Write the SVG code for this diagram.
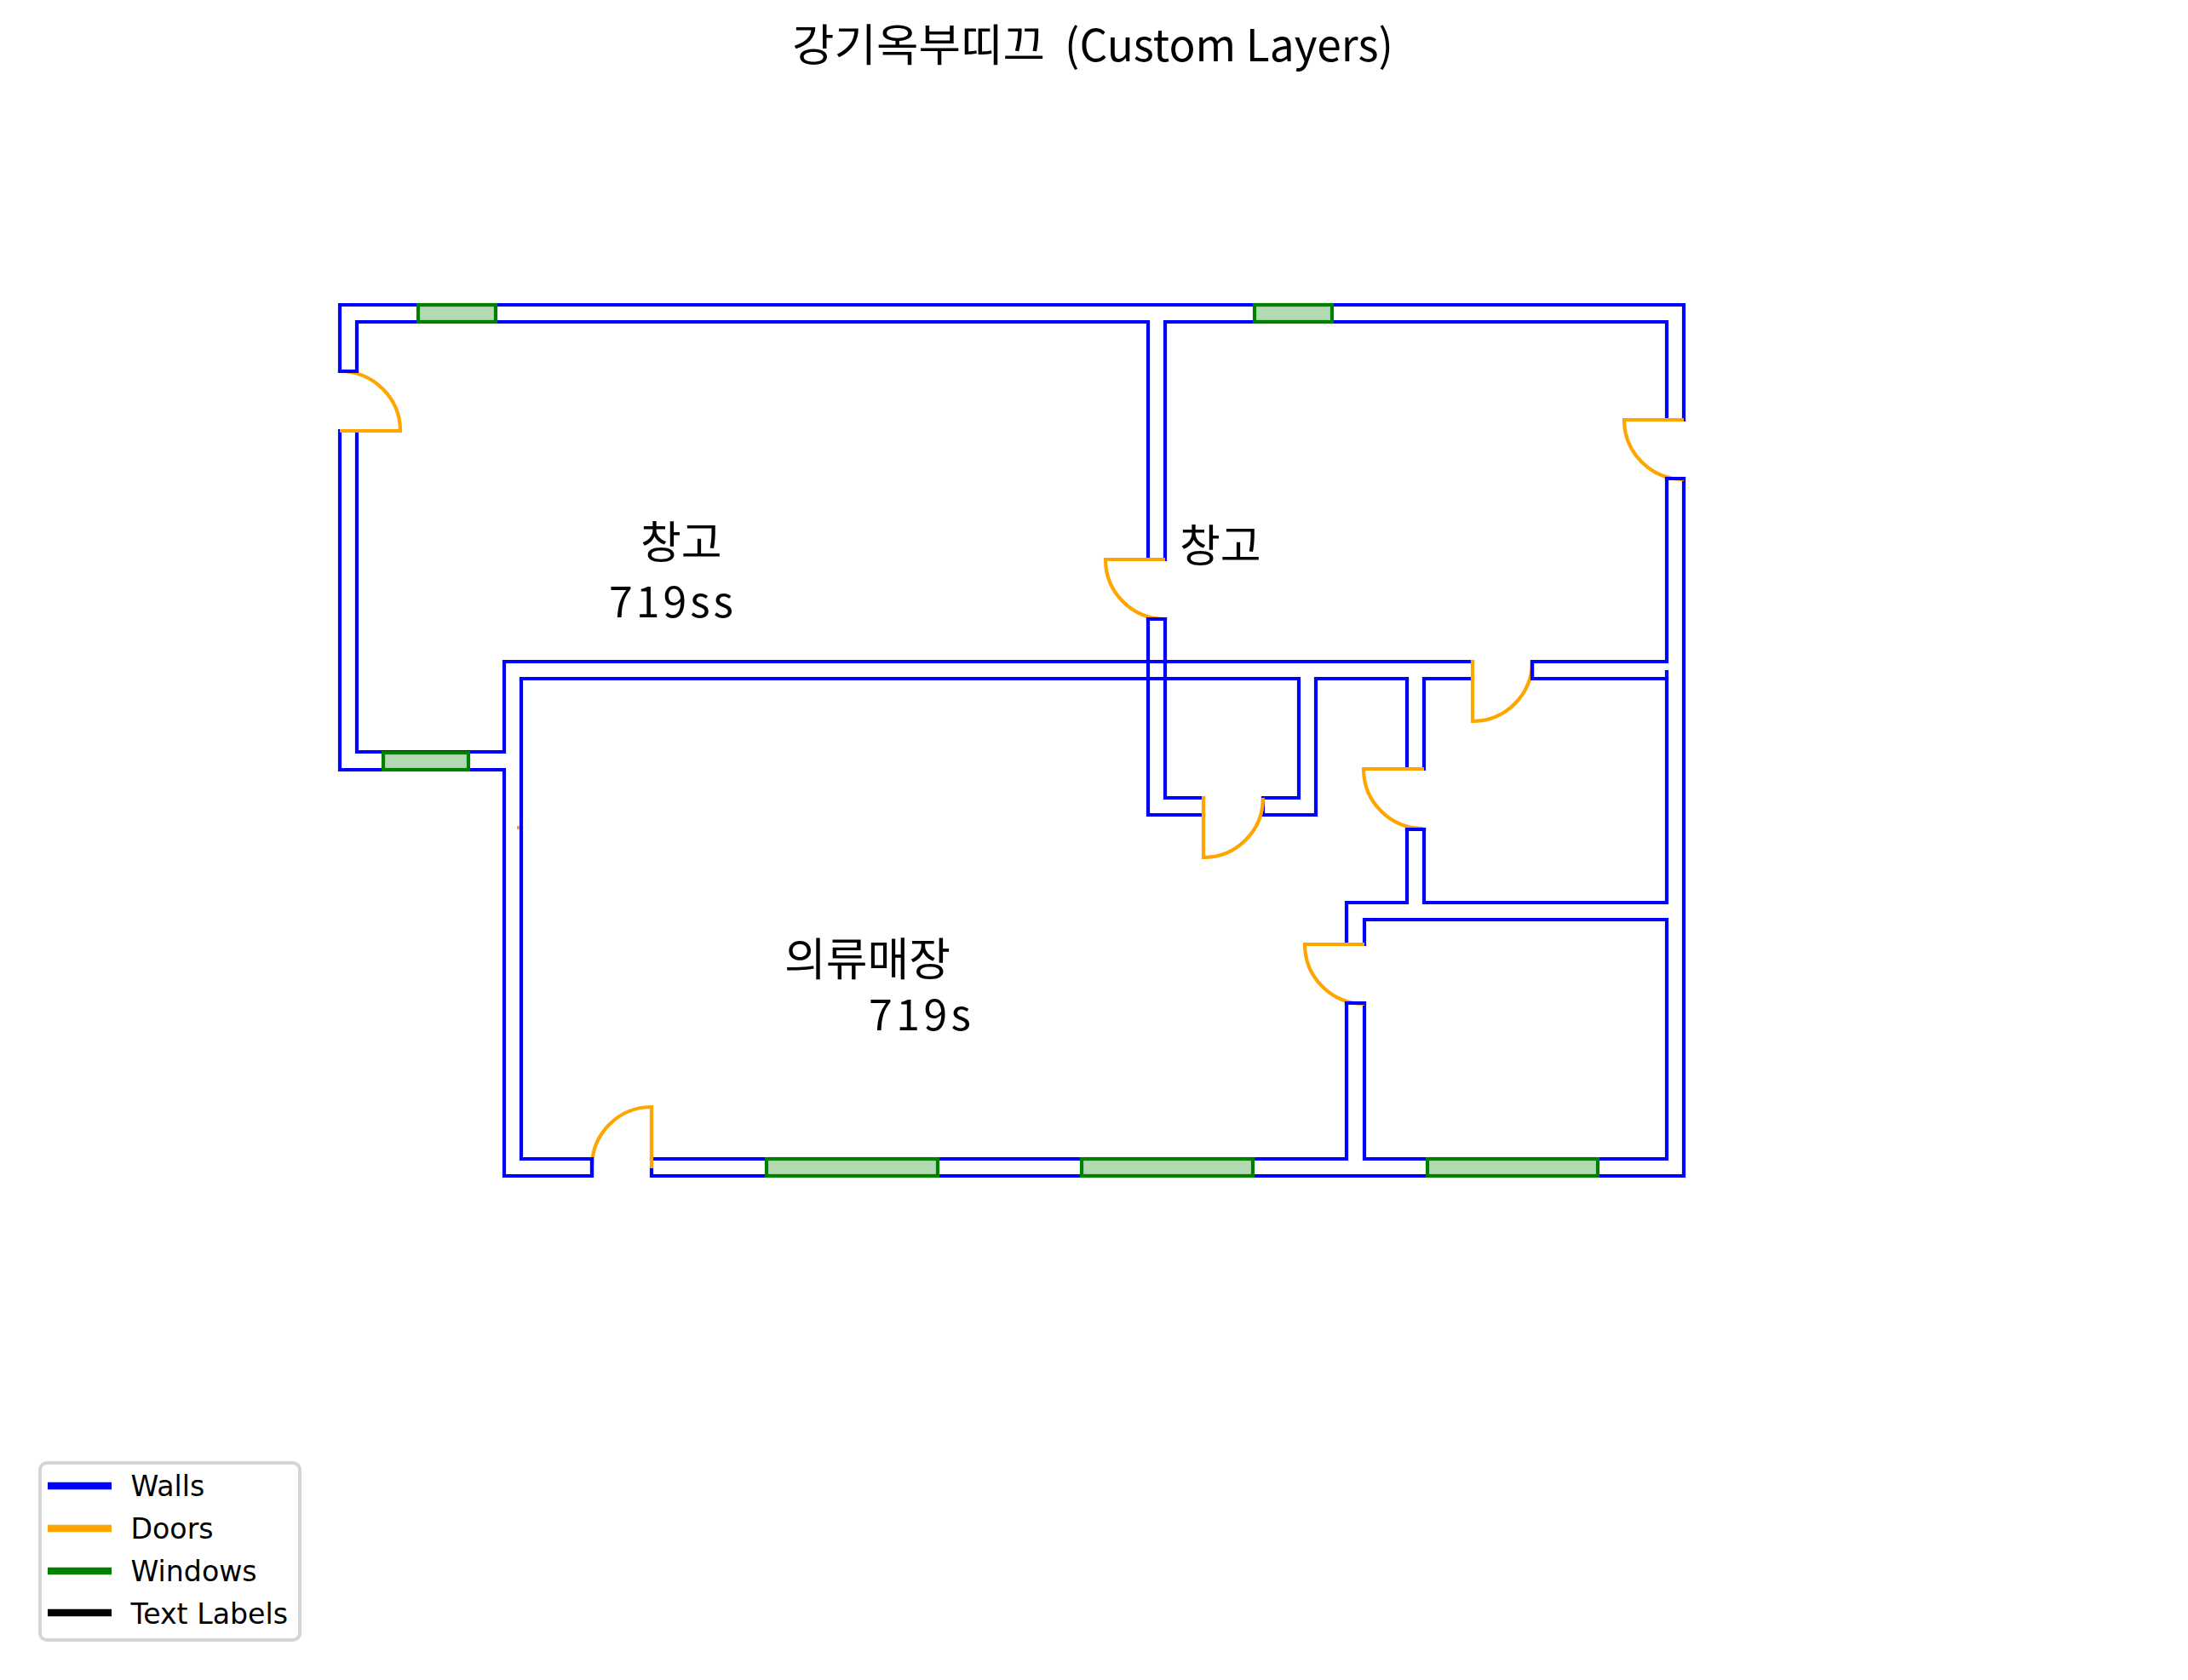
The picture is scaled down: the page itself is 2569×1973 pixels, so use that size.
<svg xmlns="http://www.w3.org/2000/svg" width="2569" height="1973" viewBox="0 0 2569 1973">
<style>
.wall{fill:none;stroke:#0000ff;stroke-width:4.2;stroke-linejoin:miter;stroke-linecap:square}
.door{fill:none;stroke:#ffa500;stroke-width:4.2;stroke-linecap:butt;stroke-linejoin:miter}
.win{fill:#b2d9b2;stroke:#008000;stroke-width:4.2}
.lab{font-family:"Noto Sans CJK KR","Noto Sans",sans-serif;fill:#000;font-weight:400}
.leg{font-family:"DejaVu Sans",sans-serif;font-size:33.2px;fill:#000}
.ll{stroke-width:8.3;fill:none}
</style>
<rect width="2569" height="1973" fill="#fff"/>
<text id="title" class="lab" y="72" font-size="52"><tspan x="930" textLength="297" lengthAdjust="spacingAndGlyphs">강기옥부띠끄</tspan><tspan x="1250" textLength="386" lengthAdjust="spacingAndGlyphs">(Custom Layers)</tspan></text>
<g id="walls">
<path class="wall" d="M399,436H419V378H1348V657M399,436V358H1977V493M1368,657V378H1957V493"/>
<path class="wall" d="M1957,562H1977V1381H765V1372M1957,562V777H1799V797H1957"/>
<path class="wall" d="M1957,789V1060H1672V974H1652V1060H1581V1109"/>
<path class="wall" d="M1672,903V797H1729M1652,903V797H1545V957H1483V937H1525V797H612V1361H695V1381H592V904H399V506"/>
<path class="wall" d="M419,506V883H592V777H1729"/>
<path class="wall" d="M1348,727H1368V937H1413M1348,727V957H1413"/>
<path class="wall" d="M1581,1178H1602V1361H1957V1080H1602V1109M1581,1178V1361H765"/>
</g>
<g id="doors">
<path class="door" d="M399,506H470A71,70 0 0 0 399,436"/>
<path class="door" d="M1977,493H1907A70,70 0 0 0 1977,563"/>
<path class="door" d="M1368,657H1298A70,70 0 0 0 1368,727"/>
<path class="door" d="M1729,775V847A70,70 0 0 0 1799,777"/>
<path class="door" d="M1413,935V1007A70,70 0 0 0 1483,937"/>
<path class="door" d="M1672,903H1601A70,70 0 0 0 1671,973"/>
<path class="door" d="M1602,1109H1532A70,70 0 0 0 1602,1179"/>
<path class="door" d="M765,1372V1300A70,70 0 0 0 695,1370"/>
<path class="door" d="M607,972H610"/>
</g>
<g id="wall-ends">
<path class="wall" d="M399,436H419M1957,562H1977M1348,727H1368M1652,974H1672M1581,1178H1602M695,1361V1381M1799,777V797"/>
</g>
<g id="windows">
<rect class="win" x="491" y="358" width="91" height="20"/>
<rect class="win" x="1473" y="358" width="91" height="20"/>
<rect class="win" x="450" y="884" width="100" height="20"/>
<rect class="win" x="900" y="1361" width="201" height="20"/>
<rect class="win" x="1270" y="1361" width="201" height="20"/>
<rect class="win" x="1676" y="1361" width="200" height="20"/>
</g>
<g id="labels">
<text class="lab" x="752" y="656" font-size="52">창고</text>
<text class="lab" x="715" y="725" font-size="50" textLength="146" lengthAdjust="spacing">719ss</text>
<text class="lab" x="1385" y="660" font-size="52">창고</text>
<text class="lab" x="921" y="1146" font-size="53">의류매장</text>
<text class="lab" x="1020" y="1210" font-size="50" textLength="120" lengthAdjust="spacing">719s</text>
</g>
<g id="legend">
<rect x="47" y="1718" width="305" height="208" rx="8" fill="#fff" stroke="#d5d5d5" stroke-width="4"/>
<line class="ll" x1="56" y1="1745" x2="131" y2="1745" stroke="#0000ff"/>
<line class="ll" x1="56" y1="1795" x2="131" y2="1795" stroke="#ffa500"/>
<line class="ll" x1="56" y1="1845" x2="131" y2="1845" stroke="#008000"/>
<line class="ll" x1="56" y1="1894" x2="131" y2="1894" stroke="#000"/>
<text class="leg" x="153.500" y="1757">Walls</text>
<text class="leg" x="153.500" y="1807">Doors</text>
<text class="leg" x="153.500" y="1857">Windows</text>
<text class="leg" x="153.500" y="1907">Text Labels</text>
</g>
</svg>
